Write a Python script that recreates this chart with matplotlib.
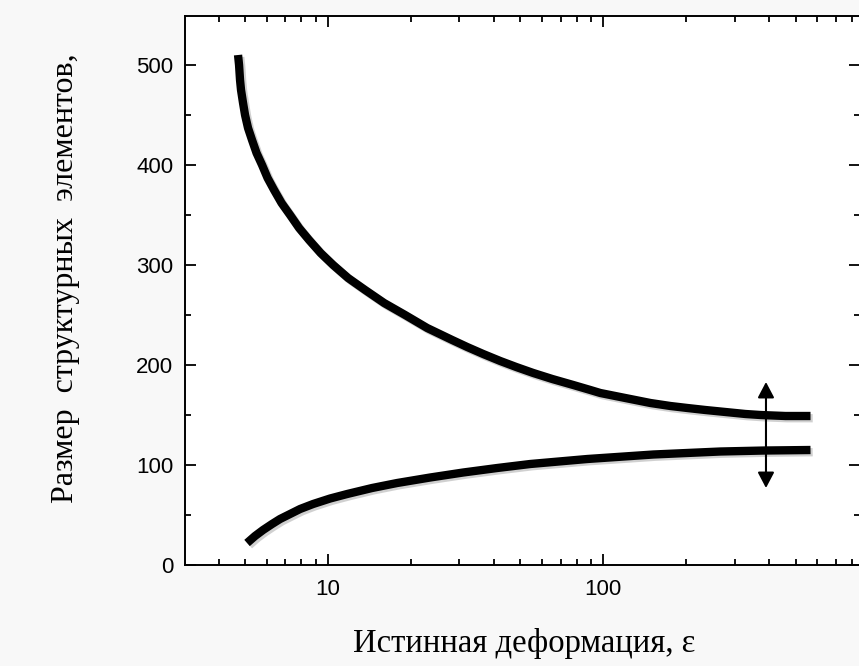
import matplotlib
matplotlib.use("Agg")
import matplotlib.pyplot as plt
import matplotlib.patheffects as pe
from matplotlib.ticker import LogLocator, FixedLocator, NullFormatter, FuncFormatter

# Upper branch: size of structural elements vs true strain
strain_upper = [4.707, 4.747, 4.786, 4.826, 4.908, 4.991, 5.117, 5.291, 5.495, 5.754,
                6.026, 6.363, 6.773, 7.275, 7.844, 8.528, 9.392, 10.43, 11.82, 13.63,
                15.98, 19.05, 22.91, 28.24, 32.02, 36.61, 42.22, 48.26, 55.66, 65.25,
                77.77, 89.70, 97.52, 120.2, 148.3, 175.3, 202.1, 234.9, 277.8, 328.4,
                372.3, 459.0, 566.0]
size_upper = [510, 500, 485, 475, 462, 450, 437, 425, 412, 400,
              387, 375, 362, 350, 337, 325, 312, 300, 287, 275,
              262, 250, 237, 225, 218, 211, 204, 198, 192, 186,
              180, 175, 172, 167, 162, 159, 157, 155, 153, 151,
              150, 149, 149]

# Lower branch
strain_lower = [5.075, 5.426, 5.802, 6.257, 6.689, 7.275, 7.910, 8.820, 10.17, 11.73,
                14.45, 17.82, 23.49, 30.97, 41.17, 54.26, 87.46, 152.0, 266.4, 388.1,
                566.0]
size_lower = [22, 29, 35, 41, 46, 51, 56, 61, 66.5, 71,
              77, 82, 87.5, 92.5, 97, 101, 106, 110.5, 113.5, 114.5,
              115]

# Double-headed arrow marking the gap between the branches
arrow_strain = 390
arrow_top = 183
arrow_bottom = 77

xlim = (3.02, 860)
ylim = (0, 549)
yticks_major = [0, 100, 200, 300, 400, 500]
yticks_minor = [50, 150, 250, 350, 450]

xlabel = "Истинная деформация, ε"
ylabel = "Размер  структурных  элементов,"

W, H = 859, 666
fig = plt.figure(figsize=(W / 100, H / 100), dpi=100)
fig.patch.set_facecolor("#f8f8f8")
ax = fig.add_axes([185 / W, (H - 565) / H, (860.5 - 185) / W, (565 - 16) / H])
ax.set_facecolor("white")

shadow = [pe.SimpleLineShadow(offset=(1.6, -1.6), shadow_color="0.4", alpha=0.3, rho=1.0),
          pe.Normal()]
for xs, ys in ((strain_upper, size_upper), (strain_lower, size_lower)):
    ax.plot(xs, ys, color="black", lw=6, solid_capstyle="butt",
            solid_joinstyle="round", path_effects=shadow, zorder=3)

ax.annotate("", xy=(arrow_strain, arrow_top), xytext=(arrow_strain, arrow_bottom),
            arrowprops=dict(arrowstyle="<|-|>,head_length=0.95,head_width=0.5",
                            color="black", lw=1.5, shrinkA=0, shrinkB=0),
            zorder=4)

ax.set_xscale("log")
ax.set_xlim(*xlim)
ax.set_ylim(*ylim)

ax.xaxis.set_major_locator(LogLocator(base=10, numticks=10))
ax.xaxis.set_minor_locator(LogLocator(base=10, subs=range(2, 10), numticks=20))
ax.xaxis.set_major_formatter(FuncFormatter(lambda v, p: f"{v:g}"))
ax.xaxis.set_minor_formatter(NullFormatter())
ax.yaxis.set_major_locator(FixedLocator(yticks_major))
ax.yaxis.set_minor_locator(FixedLocator(yticks_minor))

for s in ax.spines.values():
    s.set_linewidth(1.4)

ax.tick_params(which="both", direction="in", top=True, right=True, width=1.3,
               labelsize=16, labelfontfamily="Liberation Sans")
ax.tick_params(which="major", length=8)
ax.tick_params(which="minor", length=4.3)
ax.tick_params(axis="x", which="major", pad=10)
ax.tick_params(axis="y", which="major", pad=8.5)

fig.text(524 / W, (H - 652) / H, xlabel, family="Liberation Serif", fontsize=23.5,
         ha="center", va="baseline")
fig.text(66 / W, (H - 278) / H, ylabel, family="Liberation Serif", fontsize=23,
         ha="center", va="center", rotation=90)

fig.savefig("out.png", dpi=100, facecolor=fig.get_facecolor())
